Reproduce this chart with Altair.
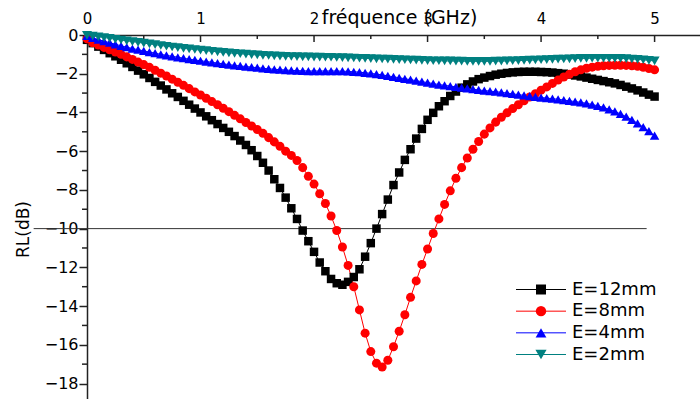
import altair as alt
import pandas as pd

FONT = "DejaVu Sans"

freq = [0.00, 0.05, 0.10, 0.15, 0.20, 0.25, 0.30, 0.35, 0.40, 0.45,
        0.50, 0.55, 0.60, 0.65, 0.70, 0.75, 0.80, 0.85, 0.90, 0.95,
        1.00, 1.05, 1.10, 1.15, 1.20, 1.25, 1.30, 1.35, 1.40, 1.45,
        1.50, 1.55, 1.60, 1.65, 1.70, 1.75, 1.80, 1.85, 1.90, 1.95,
        2.00, 2.05, 2.10, 2.15, 2.20, 2.25, 2.30, 2.35, 2.40, 2.45,
        2.50, 2.55, 2.60, 2.65, 2.70, 2.75, 2.80, 2.85, 2.90, 2.95,
        3.00, 3.05, 3.10, 3.15, 3.20, 3.25, 3.30, 3.35, 3.40, 3.45,
        3.50, 3.55, 3.60, 3.65, 3.70, 3.75, 3.80, 3.85, 3.90, 3.95,
        4.00, 4.05, 4.10, 4.15, 4.20, 4.25, 4.30, 4.35, 4.40, 4.45,
        4.50, 4.55, 4.60, 4.65, 4.70, 4.75, 4.80, 4.85, 4.90, 4.95,
        5.00]

rl_12mm = [-0.25, -0.42, -0.60, -0.77, -0.94, -1.10, -1.28, -1.46, -1.65, -1.84,
           -2.03, -2.22, -2.42, -2.61, -2.81, -3.01, -3.20, -3.40, -3.60, -3.80,
           -4.00, -4.20, -4.40, -4.60, -4.80, -5.00, -5.22, -5.45, -5.68, -5.95,
           -6.25, -6.60, -7.00, -7.45, -7.90, -8.40, -8.95, -9.50, -10.10, -10.65,
           -11.20, -11.75, -12.20, -12.60, -12.82, -12.90, -12.75, -12.50, -12.10, -11.45,
           -10.75, -10.00, -9.25, -8.50, -7.75, -7.10, -6.45, -5.90, -5.35, -4.85,
           -4.38, -4.02, -3.68, -3.42, -3.15, -2.92, -2.72, -2.55, -2.40, -2.28,
           -2.20, -2.12, -2.05, -2.00, -1.96, -1.93, -1.91, -1.90, -1.90, -1.90,
           -1.91, -1.92, -1.94, -1.97, -2.00, -2.04, -2.09, -2.14, -2.20, -2.26,
           -2.32, -2.38, -2.44, -2.50, -2.58, -2.67, -2.76, -2.86, -2.97, -3.08,
           -3.18]

rl_8mm = [-0.20, -0.40, -0.52, -0.64, -0.76, -0.88, -1.00, -1.13, -1.26, -1.40,
          -1.53, -1.67, -1.82, -1.97, -2.12, -2.28, -2.44, -2.60, -2.77, -2.94,
          -3.10, -3.27, -3.44, -3.60, -3.78, -3.96, -4.15, -4.33, -4.52, -4.70,
          -4.88, -5.08, -5.30, -5.52, -5.75, -6.00, -6.22, -6.48, -6.85, -7.30,
          -7.70, -8.20, -8.70, -9.35, -10.10, -10.95, -11.90, -13.00, -14.20, -15.40,
          -16.35, -16.95, -17.15, -16.80, -16.10, -15.30, -14.45, -13.55, -12.70, -11.85,
          -11.05, -10.25, -9.50, -8.75, -8.05, -7.40, -6.85, -6.35, -5.90, -5.50,
          -5.12, -4.80, -4.50, -4.25, -4.02, -3.80, -3.60, -3.40, -3.20, -3.03,
          -2.85, -2.68, -2.50, -2.33, -2.17, -2.03, -1.90, -1.80, -1.72, -1.66,
          -1.62, -1.59, -1.57, -1.56, -1.56, -1.57, -1.59, -1.62, -1.67, -1.73,
          -1.80]

rl_4mm = [-0.05, -0.15, -0.24, -0.32, -0.40, -0.48, -0.56, -0.63, -0.70, -0.76,
          -0.82, -0.88, -0.94, -1.00, -1.05, -1.10, -1.15, -1.20, -1.25, -1.29,
          -1.33, -1.37, -1.41, -1.45, -1.49, -1.53, -1.57, -1.60, -1.63, -1.66,
          -1.69, -1.72, -1.75, -1.77, -1.79, -1.81, -1.83, -1.84, -1.85, -1.86,
          -1.86, -1.86, -1.86, -1.86, -1.86, -1.87, -1.88, -1.90, -1.92, -1.95,
          -1.98, -2.02, -2.06, -2.11, -2.16, -2.21, -2.26, -2.31, -2.36, -2.41,
          -2.46, -2.51, -2.56, -2.60, -2.64, -2.68, -2.72, -2.76, -2.80, -2.84,
          -2.87, -2.90, -2.93, -2.96, -3.00, -3.04, -3.08, -3.12, -3.16, -3.20,
          -3.23, -3.26, -3.29, -3.32, -3.36, -3.40, -3.44, -3.48, -3.53, -3.59,
          -3.66, -3.74, -3.84, -3.95, -4.08, -4.22, -4.38, -4.56, -4.76, -4.97,
          -5.20]

rl_2mm = [-0.02, -0.05, -0.09, -0.13, -0.17, -0.22, -0.26, -0.30, -0.34, -0.38,
          -0.42, -0.46, -0.50, -0.54, -0.58, -0.62, -0.65, -0.69, -0.72, -0.75,
          -0.78, -0.81, -0.84, -0.87, -0.90, -0.92, -0.95, -0.97, -0.99, -1.01,
          -1.03, -1.05, -1.06, -1.08, -1.09, -1.10, -1.11, -1.12, -1.13, -1.13,
          -1.14, -1.14, -1.15, -1.15, -1.16, -1.17, -1.18, -1.19, -1.20, -1.21,
          -1.22, -1.23, -1.24, -1.25, -1.26, -1.27, -1.28, -1.29, -1.30, -1.31,
          -1.32, -1.33, -1.33, -1.34, -1.34, -1.35, -1.35, -1.36, -1.36, -1.36,
          -1.36, -1.36, -1.35, -1.35, -1.34, -1.33, -1.32, -1.31, -1.30, -1.29,
          -1.28, -1.27, -1.26, -1.25, -1.24, -1.23, -1.22, -1.21, -1.21, -1.20,
          -1.20, -1.20, -1.20, -1.21, -1.21, -1.22, -1.24, -1.26, -1.28, -1.31,
          -1.34]

series_names = ["E=12mm", "E=8mm", "E=4mm", "E=2mm"]
series_colors = ["#000000", "#ff0000", "#0000ff", "#008080"]
series_shapes = ["square", "circle", "triangle-up", "triangle-down"]
series_sizes = [72, 100, 150, 150]
legend_sizes = [100, 125, 170, 170]

x_ticks = [0, 1, 2, 3, 4, 5]
x_minor = [0.5, 1.5, 2.5, 3.5, 4.5]
y_ticks = [-18, -16, -14, -12, -10, -8, -6, -4, -2, 0]
y_minor = [-17, -15, -13, -11, -9, -7, -5, -3, -1]
ref_line = {"x0": -0.47, "x1": 4.93, "y": -10}

rows = []
for name, vals in zip(series_names, [rl_12mm, rl_8mm, rl_4mm, rl_2mm]):
    for f, v in zip(freq, vals):
        rows.append({"freq": f, "rl": v, "series": name})
df = pd.DataFrame(rows)

xscale = alt.Scale(domain=[0, 5.4], nice=False, zero=False)
yscale = alt.Scale(domain=[-18.8, 0], nice=False, zero=False)
cscale = alt.Scale(domain=series_names, range=series_colors)
shscale = alt.Scale(domain=series_names, range=series_shapes)
szscale = alt.Scale(domain=series_names, range=series_sizes)

xaxis = alt.Axis(orient="top", values=x_ticks, format="d", ticks=False, tickSize=0,
                 labelPadding=12, labelBaseline="alphabetic", labelFont=FONT,
                 labelFontSize=15, labelColor="black", labelFlush=False,
                 domainColor="#222222", domainWidth=1.5, grid=False,
                 title="fréquence (GHz)", titleFont=FONT, titleFontSize=19,
                 titleFontWeight="normal", titleColor="black", titleX=312,
                 titleY=-12, titleAlign="center", titleBaseline="alphabetic")
yaxis = alt.Axis(orient="left", values=y_ticks, format="d", ticks=True, tickSize=8,
                 tickWidth=1.5, tickColor="#222222", labelPadding=1, labelFont=FONT,
                 labelFontSize=16, labelColor="black", labelFlush=False,
                 domainColor="#222222", domainWidth=1.5, grid=False,
                 title="RL(dB)", titleFont=FONT, titleFontSize=17,
                 titleFontWeight="normal", titleColor="black", titleAngle=270,
                 titleX=-64, titleY=194, titleAlign="center", titleBaseline="middle")

lines = alt.Chart(df).mark_line(strokeWidth=1).encode(
    x=alt.X("freq:Q", scale=xscale, axis=xaxis),
    y=alt.Y("rl:Q", scale=yscale, axis=yaxis),
    color=alt.Color("series:N", scale=cscale, legend=None),
    detail="series:N",
)

points = alt.Chart(df).mark_point(filled=True, opacity=1, strokeWidth=0).encode(
    x=alt.X("freq:Q", scale=xscale, axis=xaxis),
    y=alt.Y("rl:Q", scale=yscale, axis=yaxis),
    color=alt.Color("series:N", scale=cscale, legend=None),
    shape=alt.Shape("series:N", scale=shscale, legend=None),
    size=alt.Size("series:N", scale=szscale, legend=None),
)

ref = alt.Chart(pd.DataFrame([ref_line])).mark_rule(color="#333333", strokeWidth=1).encode(
    x=alt.X("x0:Q", scale=xscale, axis=xaxis),
    x2="x1:Q",
    y=alt.Y("y:Q", scale=yscale, axis=yaxis),
)

xmaj = alt.Chart(pd.DataFrame({"t": x_ticks})).mark_rule(color="#222222", strokeWidth=1.5).encode(
    x=alt.X("t:Q", scale=xscale, axis=xaxis), y=alt.value(0), y2=alt.value(7))
xmin = alt.Chart(pd.DataFrame({"t": x_minor})).mark_rule(color="#222222", strokeWidth=1.5).encode(
    x=alt.X("t:Q", scale=xscale, axis=xaxis), y=alt.value(0), y2=alt.value(4))
ymin = alt.Chart(pd.DataFrame({"t": y_minor})).mark_rule(color="#222222", strokeWidth=1.5).encode(
    y=alt.Y("t:Q", scale=yscale, axis=yaxis), x=alt.value(-5), x2=alt.value(0))

main = alt.layer(ref, xmaj, xmin, ymin, lines, points)

leg_df = pd.DataFrame({"series": series_names})
ly = alt.Y("series:N", scale=alt.Scale(type="point", domain=series_names,
                                        range=[254.5, 319.5], padding=0), axis=None)
leg_line = alt.Chart(leg_df).mark_rule(strokeWidth=1).encode(
    x=alt.value(429), x2=alt.value(479), y=ly,
    color=alt.Color("series:N", scale=cscale, legend=None))
leg_pts = alt.Chart(leg_df).mark_point(filled=True, opacity=1, strokeWidth=0).encode(
    x=alt.value(454), y=ly,
    color=alt.Color("series:N", scale=cscale, legend=None),
    shape=alt.Shape("series:N", scale=shscale, legend=None),
    size=alt.Size("series:N", scale=alt.Scale(domain=series_names, range=legend_sizes), legend=None))
leg_txt = alt.Chart(leg_df).mark_text(align="left", baseline="middle", font=FONT,
                                      fontSize=18, color="black").encode(
    x=alt.value(485), y=ly, text="series:N")
legend = alt.layer(leg_line, leg_pts, leg_txt)

chart = alt.layer(main, legend).resolve_scale(y="independent", size="independent").properties(
    width=613, height=364,
    autosize=alt.AutoSizeParams(type="none"),
    padding={"left": 87, "top": 35, "right": 0, "bottom": 0},
    background="white",
).configure_view(stroke=None)

chart.save("out.html", embed_options={"renderer": "svg", "actions": False})
